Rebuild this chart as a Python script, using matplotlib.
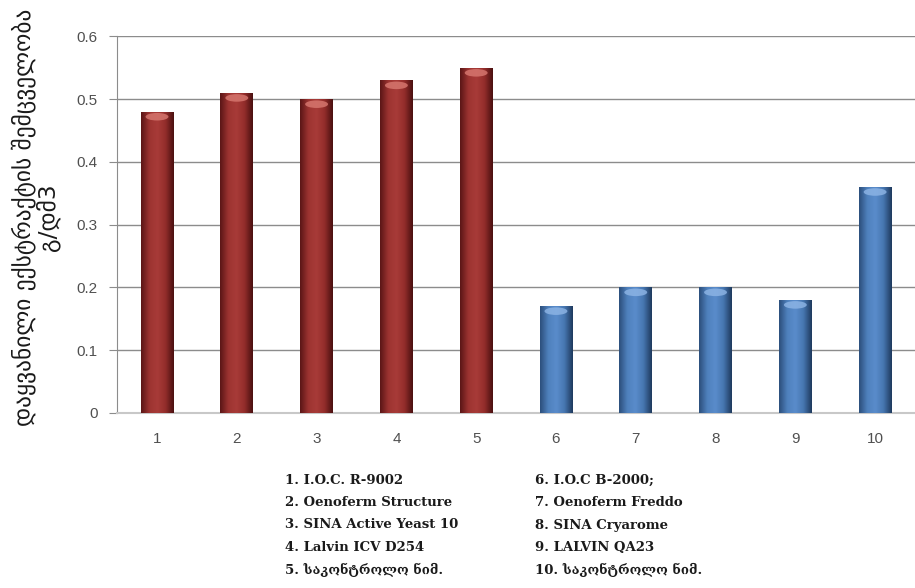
import numpy as np
import matplotlib.pyplot as plt
from matplotlib.patches import Ellipse
from matplotlib.colors import LinearSegmentedColormap

# Extract content per sample (g/dm3)
samples = ['1', '2', '3', '4', '5', '6', '7', '8', '9', '10']
values = [0.48, 0.51, 0.50, 0.53, 0.55, 0.17, 0.20, 0.20, 0.18, 0.36]
groups = ['red'] * 5 + ['blue'] * 5

legend_left = ['1. I.O.C. R-9002', '2. Oenoferm Structure', '3. SINA Active Yeast 10',
               '4. Lalvin ICV D254', '5. საკონტროლო ნიმ.']
legend_right = ['6. I.O.C B-2000;', '7. Oenoferm Freddo', '8. SINA Cryarome',
                '9. LALVIN QA23', '10. საკონტროლო ნიმ.']

ylabel = 'დაყვანილი ექსტრაქტის შემცველობა\nგ/დმ3'

# shaded cylinder-like colour ramps
cmaps = {
    'red': LinearSegmentedColormap.from_list('r', ['#5a1616', '#9c3331', '#a83b38', '#932d2b', '#4a1010']),
    'blue': LinearSegmentedColormap.from_list('b', ['#2c4f7c', '#4f81bd', '#5a8ccb', '#4676b0', '#1f3a5e']),
}
tops = {'red': '#d97a72', 'blue': '#8fb6e6'}

fig = plt.figure(figsize=(9.15, 5.88), dpi=100)
ax = fig.add_axes([0.128, 0.298, 0.872, 0.64])

x = np.arange(1, len(samples) + 1)
width = 0.41
bars = ax.bar(x, values, width=width, color='none', edgecolor='none', zorder=3)

grad = np.linspace(0, 1, 64).reshape(1, -1)
for b, g in zip(bars, groups):
    x0, w, h = b.get_x(), b.get_width(), b.get_height()
    im = ax.imshow(grad, cmap=cmaps[g], aspect='auto', extent=[x0, x0 + w, 0, h],
                   zorder=3, interpolation='bicubic')
    im.set_clip_path(b)
    # highlight cap at the top of the bar
    ax.add_patch(Ellipse((x0 + w / 2, h - 0.008), w * 0.7, 0.012,
                         color=tops[g], alpha=0.8, zorder=4, lw=0))

ax.set_xlim(0.5, 10.5)
ax.set_ylim(0, 0.6)
ax.set_yticks(np.arange(0, 0.61, 0.1))
ax.set_yticklabels(['0', '0.1', '0.2', '0.3', '0.4', '0.5', '0.6'])
ax.set_xticks(x)
ax.set_xticklabels(samples)
ax.grid(axis='y', color='#8c8c8c', lw=1.0, zorder=0)
ax.set_axisbelow(True)

for s in ['top', 'right']:
    ax.spines[s].set_visible(False)
ax.spines['left'].set_color('#8c8c8c')
ax.spines['bottom'].set_color('#c8c8c8')
ax.spines['bottom'].set_linewidth(1.5)
ax.tick_params(axis='y', colors='#8c8c8c', length=6, labelcolor='#505050', labelsize=11, pad=8)
ax.tick_params(axis='x', length=0, labelcolor='#505050', labelsize=11, pad=14)
for t in ax.get_xticklabels() + ax.get_yticklabels():
    t.set_family(['Liberation Sans', 'DejaVu Sans'])

fig.text(0.039, 1 - 217 / 588, ylabel, rotation=90, ha='center', va='center', fontsize=16.8,
         family=['DejaVu Sans'], color='#1a1a1a', multialignment='center', linespacing=1.0)

for i, (l, r) in enumerate(zip(legend_left, legend_right)):
    yy = 1 - (480 + i * 22.5) / 588
    fig.text(285 / 915, yy, l, fontsize=9.5, weight='bold', va='center', color='#1a1a1a',
             family=['DejaVu Serif'])
    fig.text(535 / 915, yy, r, fontsize=9.5, weight='bold', va='center', color='#1a1a1a',
             family=['DejaVu Serif'])

fig.savefig('out.png', dpi=100)
